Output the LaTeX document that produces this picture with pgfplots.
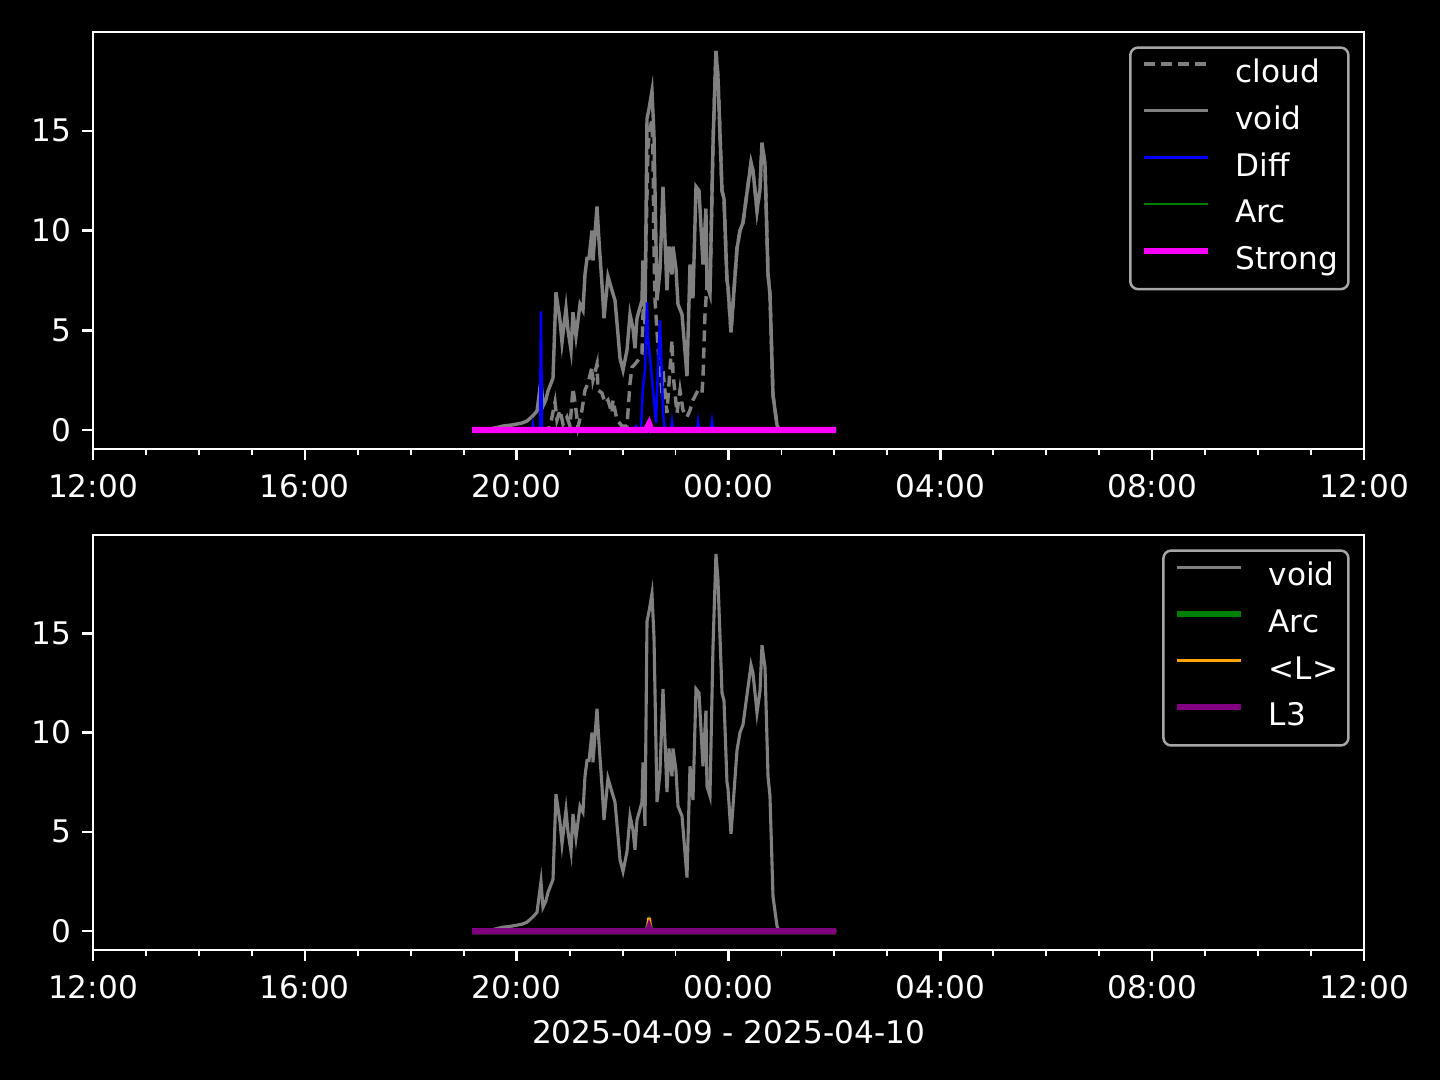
\documentclass[border=0pt]{standalone}
\usepackage{fontspec}
\setmainfont{DejaVu Sans}
\usepackage{pgfplots}
\pgfplotsset{compat=1.18}
\definecolor{vgray}{HTML}{808080}
\definecolor{mplorange}{HTML}{FFA500}
\definecolor{mplpurple}{HTML}{800080}
\definecolor{mplgreen}{HTML}{008000}
\definecolor{mplblue}{HTML}{0000FF}
\definecolor{mplmagenta}{HTML}{FF00FF}
\definecolor{legedge}{HTML}{A6A6A6}
\pgfplotsset{
 darkax/.style={
  scale only axis, width=5.649in,
  xmin=12, xmax=36, ymin=-0.95, ymax=19.95,
  xtick={12,16,20,24,28,32,36},
  xticklabels={12:00,16:00,20:00,00:00,04:00,08:00,12:00},
  minor x tick num=3,
  ytick={0,5,10,15},
  tick pos=left, tick align=outside,
  major tick length=3.5pt, minor tick length=2pt,
  major tick style={white, line width=0.8pt},
  minor tick style={white, line width=0.6pt},
  axis line style={white, line width=0.8pt},
  tick label style={white, font=\fontsize{10}{12}\selectfont},
  xticklabel style={yshift=-1pt},
  /pgf/number format/assume math mode=true,
  label style={white, font=\fontsize{10}{12}\selectfont},
  legend cell align=left,
  legend style={at={(1,1)}, anchor=north east, xshift=-4.6pt, yshift=-4.6pt,
    fill=black, draw=legedge, line width=0.8pt, rounded corners=2.5pt,
    text=white, font=\fontsize{10}{12}\selectfont,
    inner xsep=3.3pt, inner ysep=3.8pt, row sep=5pt, column sep=8pt,
    nodes={inner sep=0pt, text height=7.5pt, text depth=2.5pt}},
  legend image code/.code={\draw[#1, sharp corners] (0pt,3.5pt) -- (20.5pt,3.5pt);},
 }
}
\begin{document}
\begin{tikzpicture}
\fill[black] (0,0) rectangle (6.4in,-4.8in);
\begin{axis}[darkax, height=1.8533in, at={(0.4133in,-0.1422in)}, anchor=north west]
\addplot[vgray, line width=1.1pt, dash pattern=on 3.5pt off 2pt] coordinates {
(19.157,0) (20.55,0) (20.629,0.15) (20.724,1.4) (20.761,0.5) (20.818,1.0) (20.875,0.3) (20.950,0.65) (21.007,0.2) (21.064,2.1) (21.120,1.0) (21.158,0.15) (21.233,1.0) (21.290,2.0) (21.347,2.35) (21.422,3.15) (21.441,2.5) (21.517,3.3) (21.536,2.0) (21.611,1.85) (21.668,1.35) (21.724,1.5) (21.800,0.85) (21.819,1.5) (21.894,0.5) (21.989,0.2) (22.083,0.2) (22.140,2.35) (22.178,3.15) (22.234,3.3) (22.291,3.5) (22.366,3.8) (22.385,5.8) (22.423,7.2) (22.461,11.7) (22.480,14.2) (22.518,15.2) (22.555,15.5) (22.574,13.7) (22.593,9.0) (22.612,6.5) (22.668,4.2) (22.744,1.85) (22.763,3.0) (22.838,0.85) (22.933,4.5) (22.952,2.85) (23.027,0.85) (23.084,2.0) (23.140,1.0) (23.216,0.65) (23.273,1.0) (23.329,1.5) (23.424,2.0) (23.499,1.85) (23.518,2.65) (23.556,5.8) (23.594,7.3) (23.650,6.8) (23.707,14.3) (23.763,19.0) (23.801,17.7) (23.877,12.0) (23.915,11.6) (23.971,7.5) (23.990,7.2) (24.047,4.9) (24.085,6.3) (24.160,9.1) (24.217,10.0) (24.274,10.4) (24.349,11.9) (24.425,13.4) (24.462,13.0) (24.538,11.0) (24.595,12.1) (24.632,14.4) (24.689,13.3) (24.746,7.8) (24.783,6.8) (24.840,1.75) (24.916,0.25) (24.953,0) (26.030,0)
};
\addlegendentry{cloud}
\addplot[vgray, line width=1.1pt] coordinates {
(19.157,0) (19.50,0.05) (19.742,0.2) (19.90,0.25) (20.0,0.3) (20.10,0.35) (20.195,0.45) (20.30,0.7) (20.384,0.95) (20.459,2.5) (20.497,1.2) (20.55,1.5) (20.591,1.95) (20.686,2.6) (20.742,6.9) (20.818,5.5) (20.856,4.4) (20.931,6.1) (20.969,5.0) (21.026,4.0) (21.063,5.9) (21.120,4.7) (21.196,6.3) (21.252,6.0) (21.290,7.8) (21.328,8.6) (21.366,8.6) (21.422,10.0) (21.441,8.5) (21.517,11.2) (21.554,9.5) (21.611,7.3) (21.649,5.6) (21.724,7.7) (21.800,7.0) (21.857,6.5) (21.913,4.8) (21.951,3.6) (22.008,3.0) (22.083,4.0) (22.140,5.8) (22.196,5.1) (22.234,4.1) (22.272,5.6) (22.366,6.5) (22.385,8.5) (22.423,5.3) (22.461,15.6) (22.499,16.1) (22.555,17.0) (22.593,14.8) (22.650,6.5) (22.706,8.0) (22.763,12.2) (22.838,7.0) (22.876,9.2) (22.933,7.8) (22.952,9.2) (23.008,8.1) (23.046,6.3) (23.122,5.8) (23.216,2.7) (23.273,8.3) (23.329,6.6) (23.386,12.2) (23.443,12.0) (23.518,8.3) (23.574,11.1) (23.593,7.3) (23.650,6.8) (23.707,14.3) (23.763,19.0) (23.801,17.7) (23.877,12.0) (23.915,11.6) (23.971,7.5) (23.990,7.2) (24.047,4.9) (24.085,6.3) (24.160,9.1) (24.217,10.0) (24.274,10.4) (24.349,11.9) (24.425,13.4) (24.462,13.0) (24.538,11.0) (24.595,12.1) (24.632,14.4) (24.689,13.3) (24.746,7.8) (24.783,6.8) (24.840,1.75) (24.916,0.25) (24.953,0) (26.030,0)
};
\addlegendentry{void}
\addplot[mplblue, line width=0.8pt] coordinates {
(19.157,0) (20.289,0) (20.308,0.3) (20.327,0) (20.440,0) (20.459,5.95) (20.478,0) (22.215,0) (22.253,0.2) (22.291,0) (22.347,0) (22.385,2.15) (22.423,3.0) (22.461,6.4) (22.480,4.65) (22.536,3.15) (22.574,2.0) (22.631,0.35) (22.668,3.15) (22.706,5.5) (22.744,2.5) (22.763,0.85) (22.801,0) (22.914,0) (22.933,0.4) (22.952,0) (23.405,0) (23.424,0.4) (23.443,0) (23.669,0) (23.688,0.4) (23.707,0) (26.030,0)
};
\addlegendentry{Diff}
\addplot[mplgreen, line width=0.8pt] coordinates {
(19.157,0) (22.44,0) (22.48,0.25) (22.52,0) (26.030,0)
};
\addlegendentry{Arc}
\addplot[mplmagenta, line width=2pt] coordinates {
(19.157,0) (22.44,0) (22.499,0.3) (22.54,0) (26.030,0)
};
\addlegendentry{Strong}
\end{axis}
\begin{axis}[darkax, height=1.8444in, at={(0.4133in,-2.3778in)}, anchor=north west,
  xlabel={2025-04-09 - 2025-04-10}]
\addplot[vgray, line width=1.0pt] coordinates {
(19.157,0) (19.50,0.05) (19.742,0.2) (19.90,0.25) (20.0,0.3) (20.10,0.35) (20.195,0.45) (20.30,0.7) (20.384,0.95) (20.459,2.5) (20.497,1.2) (20.55,1.5) (20.591,1.95) (20.686,2.6) (20.742,6.9) (20.818,5.5) (20.856,4.4) (20.931,6.1) (20.969,5.0) (21.026,4.0) (21.063,5.9) (21.120,4.7) (21.196,6.3) (21.252,6.0) (21.290,7.8) (21.328,8.6) (21.366,8.6) (21.422,10.0) (21.441,8.5) (21.517,11.2) (21.554,9.5) (21.611,7.3) (21.649,5.6) (21.724,7.7) (21.800,7.0) (21.857,6.5) (21.913,4.8) (21.951,3.6) (22.008,3.0) (22.083,4.0) (22.140,5.8) (22.196,5.1) (22.234,4.1) (22.272,5.6) (22.366,6.5) (22.385,8.5) (22.423,5.3) (22.461,15.6) (22.499,16.1) (22.555,17.0) (22.593,14.8) (22.650,6.5) (22.706,8.0) (22.763,12.2) (22.838,7.0) (22.876,9.2) (22.933,7.8) (22.952,9.2) (23.008,8.1) (23.046,6.3) (23.122,5.8) (23.216,2.7) (23.273,8.3) (23.329,6.6) (23.386,12.2) (23.443,12.0) (23.518,8.3) (23.574,11.1) (23.593,7.3) (23.650,6.8) (23.707,14.3) (23.763,19.0) (23.801,17.7) (23.877,12.0) (23.915,11.6) (23.971,7.5) (23.990,7.2) (24.047,4.9) (24.085,6.3) (24.160,9.1) (24.217,10.0) (24.274,10.4) (24.349,11.9) (24.425,13.4) (24.462,13.0) (24.538,11.0) (24.595,12.1) (24.632,14.4) (24.689,13.3) (24.746,7.8) (24.783,6.8) (24.840,1.75) (24.916,0.25) (24.953,0) (26.030,0)
};
\addlegendentry{void}
\addplot[mplgreen, line width=2pt] coordinates {
(19.157,0) (22.461,0) (22.499,0.3) (22.536,0) (26.030,0)
};
\addlegendentry{Arc}
\addplot[mplorange, line width=1.0pt] coordinates {
(19.157,0) (22.47,0) (22.49,0.6) (22.51,0.6) (22.53,0) (26.030,0)
};
\addlegendentry{<L>}
\addplot[mplpurple, line width=2pt] coordinates {
(19.157,0) (22.48,0) (22.50,0.15) (22.52,0) (26.030,0)
};
\addlegendentry{L3}
\end{axis}
\end{tikzpicture}
\end{document}
